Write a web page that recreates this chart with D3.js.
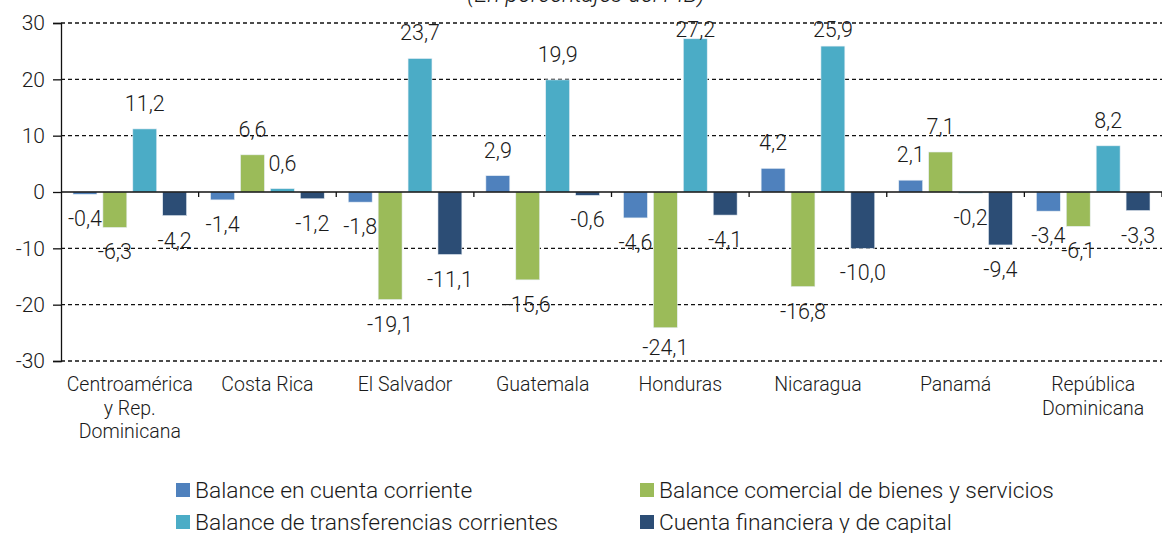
<!DOCTYPE html>
<html>
<head>
<meta charset="utf-8">
<script src="https://cdn.jsdelivr.net/npm/d3@7"></script>
<style>
  body { margin: 0; background: #fff; }
  svg text { font-family: Roboto, sans-serif; font-weight: 300; fill: #1a1a1a; }
</style>
</head>
<body>
<svg id="chart" width="1162" height="533"></svg>
<script>
// categories (line breaks with |)
var categories = ["Centroamérica|y Rep.|Dominicana", "Costa Rica", "El Salvador", "Guatemala",
  "Honduras", "Nicaragua", "Panamá", "República|Dominicana"];
var seriesNames = ["Balance en cuenta corriente", "Balance comercial de bienes y servicios",
  "Balance de transferencias corrientes", "Cuenta financiera y de capital"];
var cuentaCorriente = [-0.4, -1.4, -1.8, 2.9, -4.6, 4.2, 2.1, -3.4];
var balanceComercial = [-6.3, 6.6, -19.1, -15.6, -24.1, -16.8, 7.1, -6.1];
var transferencias = [11.2, 0.6, 23.7, 19.9, 27.2, 25.9, -0.2, 8.2];
var cuentaFinanciera = [-4.2, -1.2, -11.1, -0.6, -4.1, -10.0, -9.4, -3.3];
var yTicks = [-30, -20, -10, 0, 10, 20, 30];
var colors = ["#4f81bd", "#9bbb59", "#4bacc6", "#2c4d75"];

var series = [cuentaCorriente, balanceComercial, transferencias, cuentaFinanciera];

var svg = d3.select("#chart");
var plotLeft = 61, plotRight = 1162, plotTop = 23, plotBottom = 361;

var x = d3.scaleBand().domain(d3.range(categories.length)).range([plotLeft, plotRight]).paddingInner(0).paddingOuter(0);
var inner = d3.scaleBand().domain(d3.range(series.length)).range([12, x.bandwidth() - 12]).paddingInner(0.2).paddingOuter(0);
var y = d3.scaleLinear().domain([-30, 30]).range([plotBottom, plotTop]);

// title (partly cut off at the top)
svg.append("text")
  .attr("x", 586).attr("y", 2)
  .attr("text-anchor", "middle")
  .style("font-size", "23.5px").style("font-style", "italic")
  .text("(En porcentajes del PIB)");

// gridlines
svg.append("g").selectAll("line")
  .data(yTicks.filter(function(d){ return d != 0; }))
  .enter().append("line")
  .attr("x1", plotLeft).attr("x2", plotRight)
  .attr("y1", function(d){ return y(d); }).attr("y2", function(d){ return y(d); })
  .attr("stroke", "#111").attr("stroke-width", 1.3).attr("stroke-dasharray", "4,3");

// y axis
var yAxis = d3.axisLeft(y).tickValues(yTicks).tickSize(8).tickPadding(8);
var ya = svg.append("g").attr("transform", "translate(" + plotLeft + ",0)").call(yAxis);
ya.select(".domain").attr("stroke", "#111").attr("stroke-width", 1.3);
ya.selectAll(".tick line").attr("stroke", "#111").attr("stroke-width", 1.3);
ya.selectAll(".tick text").style("font-size", "21px").style("font-family", "Roboto, sans-serif").style("font-weight", 300).attr("fill", "#1a1a1a")
  .text(function(d){ return String(d); });

// bars
series.forEach(function(vals, si) {
  svg.append("g").selectAll("rect")
    .data(vals)
    .enter().append("rect")
    .attr("x", function(d, i){ return x(i) + inner(si); })
    .attr("width", inner.bandwidth())
    .attr("y", function(d){ return y(Math.max(0, d)); })
    .attr("height", function(d){ return Math.abs(y(d) - y(0)); })
    .attr("fill", colors[si])
    .attr("stroke", "#e8eef5").attr("stroke-width", 0.6);
});

// zero line and category ticks
svg.append("line")
  .attr("x1", plotLeft).attr("x2", plotRight).attr("y1", y(0)).attr("y2", y(0))
  .attr("stroke", "#111").attr("stroke-width", 1.3);
svg.append("g").selectAll("line")
  .data(d3.range(1, categories.length + 1))
  .enter().append("line")
  .attr("x1", function(i){ return plotLeft + i * x.step(); })
  .attr("x2", function(i){ return plotLeft + i * x.step(); })
  .attr("y1", y(0)).attr("y2", y(0) + 5)
  .attr("stroke", "#111").attr("stroke-width", 1.3);

// value labels
series.forEach(function(vals, si) {
  svg.append("g").selectAll("text")
    .data(vals)
    .enter().append("text")
    .attr("x", function(d, i){ return x(i) + inner(si) + inner.bandwidth() / 2; })
    .attr("y", function(d){ return d >= 0 ? Math.max(y(d) - 18, 37) : Math.min(y(d) + 32, 355); })
    .attr("text-anchor", "middle")
    .style("font-size", "21.5px")
    .text(function(d){ return d3.format(".1f")(d).replace(".", ",").replace("−", "-"); });
});

// category labels
categories.forEach(function(c, i) {
  var t = svg.append("text")
    .attr("x", x(i) + x.bandwidth() / 2)
    .attr("y", 391)
    .attr("text-anchor", "middle")
    .style("font-size", "19.5px").attr("fill", "#333");
  c.split("|").forEach(function(line, k) {
    t.append("tspan").attr("x", x(i) + x.bandwidth() / 2).attr("dy", k == 0 ? 0 : 23.5).text(line);
  });
});

// legend
var legPos = [[176, 490], [640, 490], [176, 522], [640, 522]];
seriesNames.forEach(function(name, si) {
  var g = svg.append("g").attr("transform", "translate(" + legPos[si][0] + "," + legPos[si][1] + ")");
  g.append("rect").attr("x", 0).attr("y", -7).attr("width", 14).attr("height", 14).attr("fill", colors[si]);
  g.append("text").attr("x", 19).attr("y", 8).style("font-size", "22.8px").text(name);
});
</script>
</body>
</html>
